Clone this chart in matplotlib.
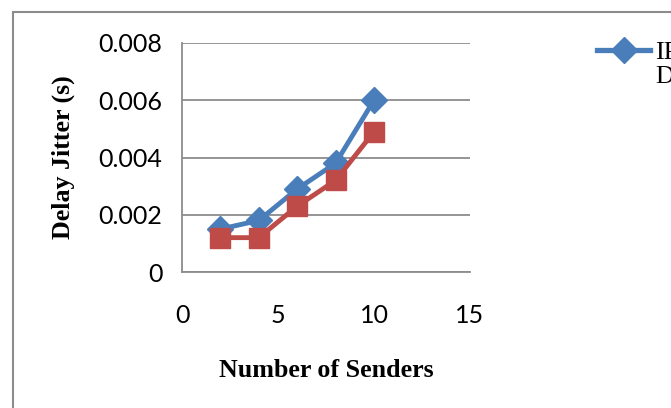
import matplotlib
matplotlib.use("Agg")
import matplotlib.pyplot as plt
from matplotlib.lines import Line2D
from matplotlib.patches import Rectangle

senders = [2, 4, 6, 8, 10]
series_blue = [0.0015, 0.0018, 0.0029, 0.0038, 0.0060]
series_red = [0.0012, 0.0012, 0.0023, 0.0032, 0.0049]
blue_label = "IP\nD"
x_ticks = [0, 5, 10, 15]
y_ticks = [0, 0.002, 0.004, 0.006, 0.008]
y_tick_labels = ["0", "0.002", "0.004", "0.006", "0.008"]

W, H = 671, 408
fig = plt.figure(figsize=(W / 100, H / 100), dpi=100)

# outer chart border (extends beyond the image at right and bottom)
fig.patches.append(Rectangle((13 / W, -0.1), 1.2, 1 - 12 / H + 0.1,
                             transform=fig.transFigure, fill=False,
                             edgecolor="#8c8c8c", linewidth=1.5))

ax = fig.add_axes([182 / W, 1 - 272 / H, (470 - 182) / W, (272 - 43) / H])
blue = "#4a7ebb"
red = "#be4b48"
ax.plot(senders, series_blue, color=blue, linewidth=3.5, marker="D",
        markersize=13, zorder=3)
ax.plot(senders, series_red, color=red, linewidth=3.5, marker="s",
        markersize=14, zorder=4)

ax.set_xlim(0, 15)
ax.set_ylim(0, 0.008)
ax.set_xticks(x_ticks)
ax.set_yticks(y_ticks)
ax.set_yticklabels(y_tick_labels)
ax.tick_params(length=0, labelsize=18)
ax.tick_params(axis="y", pad=14)
ax.tick_params(axis="x", pad=23)
for lbl in ax.get_xticklabels() + ax.get_yticklabels():
    lbl.set_family("Lato")
ax.grid(axis="y", color="#8c8c8c", linewidth=1.3)
ax.set_axisbelow(True)
for s in ["top", "right"]:
    ax.spines[s].set_visible(False)
for s in ["left", "bottom"]:
    ax.spines[s].set_color("#8c8c8c")
    ax.spines[s].set_linewidth(1.3)

ax.set_xlabel("Number of Senders", family="Liberation Serif", fontweight="bold",
              fontsize=18.7, labelpad=23)
ax.set_ylabel("Delay Jitter (s)", family="Liberation Serif", fontweight="bold",
              fontsize=18.7, labelpad=17)

# legend (cut off at the right edge, as in the reference)
fig.add_artist(Line2D([597 / W, 650 / W], [1 - 50 / H, 1 - 50 / H],
                      color=blue, linewidth=3.8, transform=fig.transFigure))
fig.add_artist(Line2D([623.5 / W], [1 - 50 / H], color=blue, marker="D",
                      markersize=13, linestyle="none",
                      transform=fig.transFigure))
fig.text(655 / W, 1 - 42 / H, blue_label, family="Liberation Serif",
         fontsize=18.7, va="top", ha="left", linespacing=1.1)

fig.savefig("out.png", dpi=100)
